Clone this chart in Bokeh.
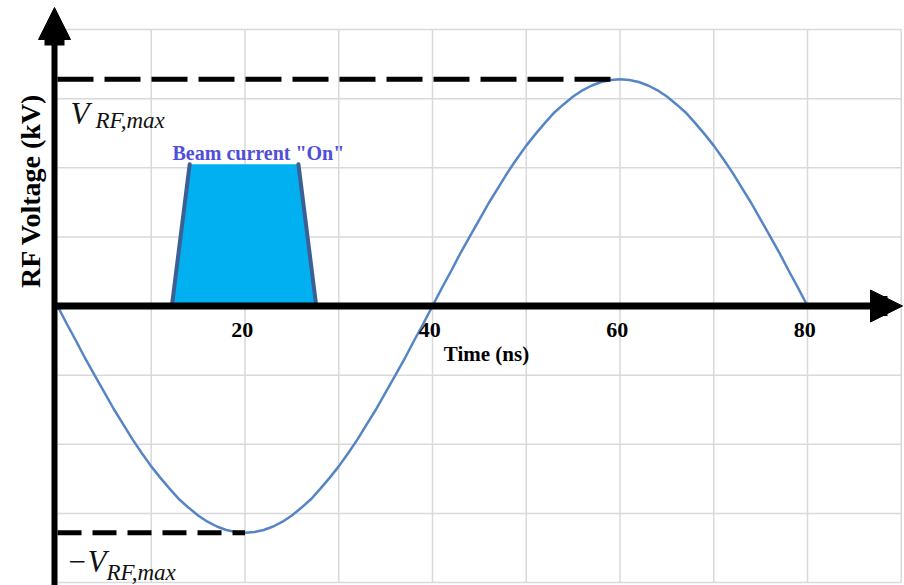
from bokeh.plotting import figure
from bokeh.models import Range1d, Arrow, NormalHead
from bokeh.core.properties import value
from bokeh.embed import file_html
from bokeh.resources import INLINE

# ---------------- data ----------------
time_ns = list(range(0, 81))
rf_voltage = [0.0, -0.26, -0.51, -0.77, -1.01, -1.25, -1.49, -1.71, -1.93, -2.13,
              -2.32, -2.49, -2.65, -2.80, -2.92, -3.03, -3.12, -3.19, -3.24, -3.27,
              -3.28,
              -3.27, -3.24, -3.19, -3.12, -3.03, -2.92, -2.80, -2.65, -2.49, -2.32,
              -2.13, -1.93, -1.71, -1.49, -1.25, -1.01, -0.77, -0.51, -0.26, 0.0,
              0.26, 0.51, 0.77, 1.01, 1.25, 1.49, 1.71, 1.93, 2.13, 2.32,
              2.49, 2.65, 2.80, 2.92, 3.03, 3.12, 3.19, 3.24, 3.27, 3.28,
              3.27, 3.24, 3.19, 3.12, 3.03, 2.92, 2.80, 2.65, 2.49, 2.32,
              2.13, 1.93, 1.71, 1.49, 1.25, 1.01, 0.77, 0.51, 0.26, 0.0]
v_max = 3.28
t_at_vmax = 60
t_at_vmin = 20

beam_t = [12.2, 14.1, 25.7, 27.6]
beam_v = [0.0, 2.05, 2.05, 0.0]

tick_values = [20, 40, 60, 80]
tick_labels = ["20", "40", "60", "80"]
grid_x = [10, 20, 30, 40, 50, 60, 70, 80, 90]
grid_y = [-4, -3, -2, -1, 1, 2, 3, 4]

# ---------------- layout helpers (screen px -> data) ----------------
X0_PX, PX_PER_NS = 57.0, 9.375
Y0_PX, PX_PER_UNIT = 305.5, 69.125
W, H = 904, 585


def dx(px):
    return (px - X0_PX) / PX_PER_NS


def dy(py):
    return (Y0_PX - py) / PX_PER_UNIT


p = figure(width=W, height=H, output_backend="svg", toolbar_location=None,
           x_range=Range1d(dx(0), dx(W)), y_range=Range1d(dy(H), dy(0)),
           x_axis_location=None, y_axis_location=None, min_border=0,
           outline_line_color=None, background_fill_color="white",
           border_fill_color="white")
p.xgrid.visible = False
p.ygrid.visible = False

GRID = "#d9d9d9"
gx_lo, gx_hi = 0, grid_x[-1]
gy_lo, gy_hi = grid_y[0], grid_y[-1]
p.segment(x0=grid_x, y0=[gy_lo] * len(grid_x), x1=grid_x, y1=[gy_hi] * len(grid_x),
          line_color=GRID, line_width=1.5)
p.segment(x0=[gx_lo] * len(grid_y), y0=grid_y, x1=[gx_hi] * len(grid_y), y1=grid_y,
          line_color=GRID, line_width=1.5)

# beam current trapezoid (no outline on the top edge)
p.patch(beam_t, beam_v, fill_color="#00B0F0", line_color=None)
p.multi_line(xs=[beam_t[0:2], beam_t[2:4], [beam_t[0], beam_t[3]]],
             ys=[beam_v[0:2], beam_v[2:4], [beam_v[0], beam_v[3]]],
             line_color="#3C5F94", line_width=4, line_cap="round")

# RF voltage sine
p.line(time_ns, rf_voltage, line_color="#5585C5", line_width=2.5)

# V_max / -V_max dashed markers
p.line([0, t_at_vmax], [v_max, v_max], line_color="black", line_width=5,
       line_dash="36 11")
p.line([0, t_at_vmin], [-v_max, -v_max], line_color="black", line_width=5,
       line_dash="24 11")

# axes with arrows
ax_x = dx(54)
p.add_layout(Arrow(x_start=ax_x, y_start=dy(H + 5), x_end=ax_x, y_end=dy(7),
                   line_width=6, line_color="black",
                   end=NormalHead(size=32, fill_color="black", line_color="black",
                                  line_width=1)))
p.segment(x0=[ax_x], y0=[dy(28)], x1=[ax_x], y1=[dy(45)], line_width=20,
          line_color="black", line_cap="butt")
p.add_layout(Arrow(x_start=ax_x, y_start=0, x_end=dx(902), y_end=0,
                   line_width=7, line_color="black",
                   end=NormalHead(size=32, fill_color="black", line_color="black",
                                  line_width=1)))
p.segment(x0=[dx(871)], y0=[0], x1=[dx(887)], y1=[0], line_width=20,
          line_color="black", line_cap="butt")

SERIF = value("Liberation Serif")

# tick labels
p.text(x=[t - 0.3 for t in tick_values], y=[dy(329)] * len(tick_values),
       text=tick_labels, text_font=SERIF, text_font_style="bold",
       text_font_size="22px", text_align="center", text_baseline="middle",
       text_color="black")

# axis titles
p.text(x=[dx(486)], y=[dy(353)], text=["Time (ns)"], text_font=SERIF,
       text_font_style="bold", text_font_size="21px", text_align="center",
       text_baseline="alphabetic", text_color="black")
p.text(x=[dx(30)], y=[dy(190)], text=["RF Voltage (kV)"], angle=1.5707963,
       text_font=SERIF, text_font_style="bold", text_font_size="28px",
       text_align="center", text_baseline="middle", text_color="black")

# beam label
p.text(x=[dx(172)], y=[dy(152)], text=['Beam current "On"'], text_font=SERIF,
       text_font_style="bold", text_font_size="20px", text_align="left",
       text_baseline="alphabetic", text_color="#4F4FD9")

# V_RF,max labels
p.text(x=[dx(70)], y=[dy(113)], text=["V"], text_font=SERIF,
       text_font_style="italic", text_font_size="31px", text_align="left",
       text_baseline="alphabetic", text_color="#111111")
p.text(x=[dx(95)], y=[dy(120)], text=["RF,max"], text_font=SERIF,
       text_font_style="italic", text_font_size="23px", text_align="left",
       text_baseline="alphabetic", text_color="#111111")
p.text(x=[dx(66)], y=[dy(561)], text=["\u2212V"], text_font=SERIF,
       text_font_style="italic", text_font_size="31px", text_align="left",
       text_baseline="alphabetic", text_color="#111111")
p.text(x=[dx(106)], y=[dy(572)], text=["RF,max"], text_font=SERIF,
       text_font_style="italic", text_font_size="23px", text_align="left",
       text_baseline="alphabetic", text_color="#111111")

open("out.html", "w").write(file_html(p, INLINE))
